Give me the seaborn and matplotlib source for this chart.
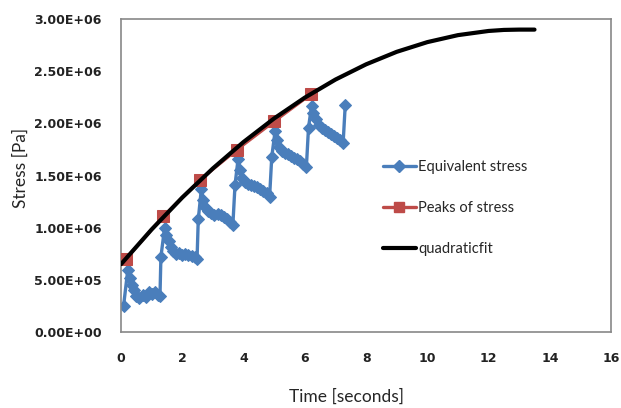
import numpy as np
import pandas as pd
import matplotlib
matplotlib.use("Agg")
import matplotlib.pyplot as plt
import seaborn as sns
from matplotlib.ticker import FuncFormatter
from matplotlib.lines import Line2D

# Equivalent stress (time in s, stress in Pa)
eq_time = [0.08, 0.22, 0.28, 0.35, 0.42, 0.50, 0.60, 0.70, 0.80, 0.90, 1.00, 1.10, 1.20, 1.27,
           1.30, 1.42, 1.48, 1.55, 1.62, 1.70, 1.80, 1.90, 2.00, 2.10, 2.20, 2.30, 2.40, 2.48,
           2.52, 2.62, 2.68, 2.75, 2.85, 2.95, 3.05, 3.15, 3.25, 3.35, 3.45, 3.55, 3.65,
           3.72, 3.82, 3.88, 3.95, 4.05, 4.15, 4.25, 4.35, 4.45, 4.55, 4.65, 4.75, 4.85,
           4.92, 5.03, 5.10, 5.17, 5.25, 5.35, 5.45, 5.55, 5.65, 5.75, 5.85, 5.95, 6.05,
           6.12, 6.22, 6.28, 6.35, 6.45, 6.55, 6.65, 6.75, 6.85, 6.95, 7.05, 7.15, 7.25,
           7.32]
eq_stress = [0.25, 0.60, 0.52, 0.45, 0.40, 0.35, 0.33, 0.36, 0.34, 0.38, 0.37, 0.38, 0.36, 0.35,
             0.72, 1.00, 0.93, 0.87, 0.82, 0.78, 0.75, 0.76, 0.74, 0.75, 0.74, 0.73, 0.72, 0.70,
             1.08, 1.37, 1.27, 1.20, 1.16, 1.14, 1.12, 1.13, 1.12, 1.10, 1.08, 1.06, 1.03,
             1.41, 1.66, 1.55, 1.48, 1.44, 1.42, 1.41, 1.40, 1.39, 1.37, 1.35, 1.33, 1.30,
             1.68, 1.93, 1.84, 1.77, 1.74, 1.72, 1.71, 1.69, 1.67, 1.66, 1.64, 1.61, 1.58,
             1.96, 2.17, 2.10, 2.04, 1.99, 1.96, 1.94, 1.92, 1.90, 1.88, 1.86, 1.84, 1.81,
             2.18]
eq_stress = [v * 1e6 for v in eq_stress]

# Peaks of stress
peak_time = [0.15, 1.38, 2.58, 3.79, 5.00, 6.20]
peak_stress = [0.70e6, 1.11e6, 1.46e6, 1.75e6, 2.02e6, 2.28e6]

# Quadratic fit curve
fit_time = [0, 1, 2, 3, 4, 5, 6, 7, 8, 9, 10, 11, 12, 12.5, 13, 13.5]
fit_stress = [0.652, 0.985, 1.291, 1.570, 1.823, 2.049, 2.248, 2.421, 2.567, 2.687,
              2.780, 2.847, 2.887, 2.897, 2.900, 2.900]
fit_stress = [v * 1e6 for v in fit_stress]

x_ticks = [0, 2, 4, 6, 8, 10, 12, 14, 16]
y_ticks = [0, 0.5e6, 1.0e6, 1.5e6, 2.0e6, 2.5e6, 3.0e6]

sns.set_style("white")
plt.rcParams['font.family'] = ['DejaVu Sans']

BLUE = "#4A7EBB"
RED = "#BE4B48"
LABEL_FONT = ["Lato", "DejaVu Sans"]

fig = plt.figure(figsize=(6.21, 4.08), dpi=100)
ax = fig.add_axes([0.195, 0.186, 0.789, 0.767])

df_eq = pd.DataFrame({"t": eq_time, "s": eq_stress})
df_pk = pd.DataFrame({"t": peak_time, "s": peak_stress})
df_fit = pd.DataFrame({"t": fit_time, "s": fit_stress})

sns.lineplot(data=df_eq, x="t", y="s", ax=ax, color=BLUE, lw=2.4, marker="D",
             markersize=6, markeredgecolor=BLUE, estimator=None, sort=False, zorder=2)
sns.lineplot(data=df_pk, x="t", y="s", ax=ax, color=RED, lw=2.2, marker="s",
             markersize=9, markeredgecolor=RED, estimator=None, sort=False, zorder=3)
sns.lineplot(data=df_fit, x="t", y="s", ax=ax, color="black", lw=3, estimator=None,
             sort=False, zorder=4)

ax.set_xlim(0, 16)
ax.set_ylim(0, 3.0e6)
ax.set_xticks(x_ticks)
ax.set_yticks(y_ticks)
ax.yaxis.set_major_formatter(FuncFormatter(lambda v, p: "{:.2E}".format(v)))
ax.tick_params(axis="both", direction="out", length=5, width=1, color="#888888",
               labelsize=9)
ax.tick_params(axis="y", pad=9)
ax.tick_params(axis="x", pad=9)
for lab in ax.get_xticklabels() + ax.get_yticklabels():
    lab.set_fontweight("bold")
    lab.set_color("#222222")
for sp in ax.spines.values():
    sp.set_color("#888888")
    sp.set_linewidth(1.2)

ax.set_xlabel("Time [seconds]", fontsize=12.5, family=LABEL_FONT)
ax.set_ylabel("Stress [Pa]", fontsize=12.5, family=LABEL_FONT)
ax.xaxis.set_label_coords(0.461, -0.18)
ax.yaxis.set_label_coords(-0.188, 0.524)

handles = [
    Line2D([], [], color=BLUE, lw=2.4, marker="D", markersize=6),
    Line2D([], [], color=RED, lw=2.4, marker="s", markersize=7.5),
    Line2D([], [], color="black", lw=3),
]
labels = ["Equivalent stress", "Peaks of stress", "quadraticfit"]
leg = ax.legend(handles, labels, loc="upper left", bbox_to_anchor=(0.595, 0.64),
                bbox_transform=fig.transFigure, frameon=False,
                labelspacing=1.85, handlelength=2.3, handletextpad=0.15,
                prop={"family": LABEL_FONT, "size": 10.5})

fig.savefig("out.png", dpi=100)
